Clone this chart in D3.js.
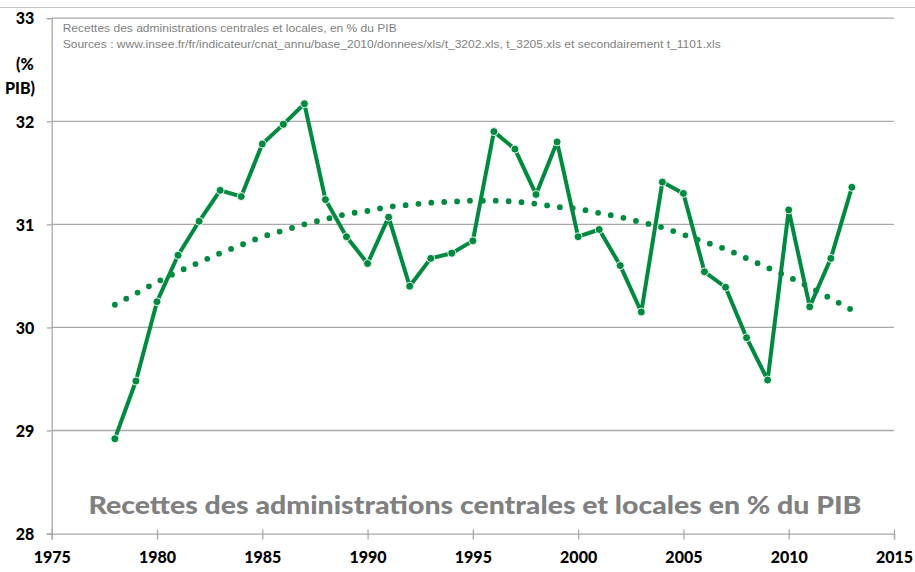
<!DOCTYPE html>
<html>
<head>
<meta charset="utf-8">
<script src="https://cdn.jsdelivr.net/npm/d3@7/dist/d3.min.js"></script>
<style>
  html, body { margin: 0; padding: 0; background: #fff; }
  svg { display: block; }
</style>
</head>
<body>
<svg id="chart" width="915" height="572"></svg>
<script>
// ---- data ----
const years = [1978,1979,1980,1981,1982,1983,1984,1985,1986,1987,1988,1989,1990,1991,1992,1993,1994,1995,
               1996,1997,1998,1999,2000,2001,2002,2003,2004,2005,2006,2007,2008,2009,2010,2011,2012,2013];
const recettes = [28.92,29.48,30.25,30.70,31.03,31.33,31.27,31.78,31.97,32.17,31.24,30.88,30.62,31.07,30.40,30.67,30.72,30.84,
                  31.90,31.73,31.29,31.80,30.88,30.95,30.60,30.15,31.41,31.30,30.54,30.39,29.90,29.49,31.14,30.20,30.67,31.36];
const tendance = [30.22,30.33,30.44,30.54,30.63,30.72,30.80,30.88,30.94,31.00,31.05,31.10,31.13,31.17,31.19,31.21,31.22,31.23,
                  31.23,31.22,31.20,31.17,31.15,31.11,31.07,31.02,30.97,30.90,30.83,30.76,30.67,30.58,30.49,30.39,30.28,30.17];
const xTicks = [1975,1980,1985,1990,1995,2000,2005,2010,2015];
const yTicks = [28,29,30,31,32,33];
const noteLines = [
  "Recettes des administrations centrales et locales, en % du PIB",
  "Sources : www.insee.fr/fr/indicateur/cnat_annu/base_2010/donnees/xls/t_3202.xls, t_3205.xls et secondairement t_1101.xls"
];
const yTitle = ["(%", "PIB)"];
const bigTitle = "Recettes des administrations centrales et locales en % du PIB";

// ---- layout ----
const svg = d3.select("#chart");
const green = "#008a3f";
const x = d3.scaleLinear().domain([1975, 2015]).range([51.7, 894]);
const y = d3.scaleLinear().domain([28, 33]).range([533.6, 18.2]);
const boldFont = "Lato, 'Open Sans', sans-serif";
const noteWidths = [334, 658];

// top border line
svg.append("line").attr("x1", 0).attr("x2", 915).attr("y1", 7.5).attr("y2", 7.5)
  .attr("stroke", "#c4c4c4").attr("stroke-width", 1.2);

// gridlines
svg.append("g").selectAll("line").data(yTicks.filter(d => d > 28)).join("line")
  .attr("x1", x(1975)).attr("x2", x(2015))
  .attr("y1", d => y(d)).attr("y2", d => y(d))
  .attr("stroke", "#a8a8a8").attr("stroke-width", 1.3);

// y axis
const yAxis = d3.axisLeft(y).tickValues(yTicks).tickSize(5).tickFormat(d3.format("d"));
const gy = svg.append("g").attr("transform", `translate(${x(1975)},0)`).call(yAxis);
gy.select(".domain").attr("stroke", "#a8a8a8").attr("stroke-width", 1.3);
gy.selectAll(".tick line").attr("stroke", "#a8a8a8").attr("stroke-width", 1.3);
gy.selectAll(".tick text").attr("x", -17.5).attr("dy", "0.36em")
  .attr("font-family", boldFont).attr("font-weight", "900").attr("font-size", 16).attr("fill", "#000");

// x axis
const xAxis = d3.axisBottom(x).tickValues(xTicks).tickSize(6).tickFormat(d3.format("d"));
const gx = svg.append("g").attr("transform", `translate(0,${y(28)})`).call(xAxis);
gx.select(".domain").attr("stroke", "#a8a8a8").attr("stroke-width", 1.3);
gx.selectAll(".tick line").attr("stroke", "#a8a8a8").attr("stroke-width", 1.3).attr("y1", -4);
gx.selectAll(".tick text").attr("y", 24).attr("dy", "0.36em")
  .attr("font-family", boldFont).attr("font-weight", "900").attr("font-size", 16).attr("fill", "#000");

// y-axis title
svg.append("text").attr("x", 16).attr("y", 69.5).text(yTitle[0])
  .attr("font-family", boldFont).attr("font-weight", "900").attr("font-size", 16).attr("fill", "#000");
svg.append("text").attr("x", 5).attr("y", 93.5).text(yTitle[1])
  .attr("font-family", boldFont).attr("font-weight", "900").attr("font-size", 16).attr("fill", "#000");

// notes
svg.append("g").selectAll("text").data(noteLines).join("text")
  .attr("x", 62.7).attr("y", (d, i) => 31.5 + i * 16.3)
  .attr("font-family", "'Liberation Sans', Arial, sans-serif").attr("font-size", 11.8)
  .attr("fill", "#7f7f7f")
  .attr("textLength", (d, i) => noteWidths[i]).attr("lengthAdjust", "spacingAndGlyphs")
  .text(d => d);

// big title
svg.append("text").attr("x", 88.5).attr("y", 513.5)
  .attr("font-family", boldFont).attr("font-weight", "900").attr("font-size", 25)
  .attr("fill", "#808080").attr("textLength", 773).attr("lengthAdjust", "spacingAndGlyphs")
  .text(bigTitle);

// data line
const pts = years.map((yr, i) => [yr, recettes[i]]);
const line = d3.line().x(d => x(d[0])).y(d => y(d[1]));
svg.append("path").datum(pts).attr("d", line)
  .attr("fill", "none").attr("stroke", green).attr("stroke-width", 4).attr("stroke-linejoin", "round");
svg.append("g").selectAll("circle").data(pts).join("circle")
  .attr("cx", d => x(d[0])).attr("cy", d => y(d[1])).attr("r", 4)
  .attr("fill", green).attr("stroke", "#fff").attr("stroke-width", 0.9);

// trend line (dotted)
const tpts = years.map((yr, i) => [yr, tendance[i]]);
const tline = d3.line().curve(d3.curveMonotoneX).x(d => x(d[0])).y(d => y(d[1]));
svg.append("path").datum(tpts).attr("d", tline)
  .attr("fill", "none").attr("stroke", green).attr("stroke-width", 5.8)
  .attr("stroke-linecap", "round").attr("stroke-dasharray", "0 12.9");
</script>
</body>
</html>
